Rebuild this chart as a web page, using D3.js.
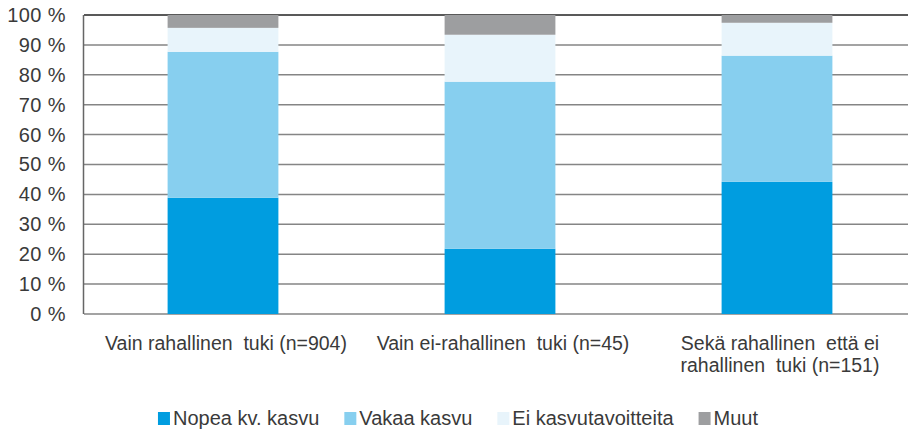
<!DOCTYPE html>
<html>
<head>
<meta charset="utf-8">
<script src="https://cdnjs.cloudflare.com/ajax/libs/d3/7.8.5/d3.min.js"></script>
<style>
body { margin: 0; background: #fff; }
text { font-family: "Liberation Sans", Arial, sans-serif; fill: #3a3a3a; }
</style>
</head>
<body>
<svg id="chart" width="908" height="431"></svg>
<script>
// Data
var categories = ["Vain rahallinen  tuki (n=904)", "Vain ei-rahallinen  tuki (n=45)", "Sekä rahallinen  että ei\nrahallinen  tuki (n=151)"];
var seriesNames = ["Nopea kv. kasvu", "Vakaa kasvu", "Ei kasvutavoitteita", "Muut"];
var nopea = [38.9, 21.8, 44.2];
var vakaa = [48.8, 55.9, 42.2];
var eiKasvu = [8.0, 15.7, 11.0];
var muut = [4.3, 6.6, 2.6];
var yTicks = [0, 10, 20, 30, 40, 50, 60, 70, 80, 90, 100];
var colors = ["#009de0", "#87cfef", "#e8f4fb", "#9d9ea0"];

var svg = d3.select("#chart");
var plotLeft = 84, plotRight = 915.5, plotTop = 15, plotBottom = 314;

var rows = categories.map(function(c, i) {
	return {cat: c, s0: nopea[i], s1: vakaa[i], s2: eiKasvu[i], s3: muut[i]};
});
var layers = d3.stack().keys(["s0", "s1", "s2", "s3"])(rows);

var x = d3.scaleBand().domain(categories).range([plotLeft + 0.5, plotRight]).paddingInner(0.6).paddingOuter(0.3);
var y = d3.scaleLinear().domain([0, 100]).range([plotBottom, plotTop]);

// Grid lines
svg.append("g").selectAll("line").data(yTicks).enter().append("line")
	.attr("x1", plotLeft).attr("x2", 908)
	.attr("y1", function(d) { return y(d); }).attr("y2", function(d) { return y(d); })
	.attr("stroke", function(d) { return d == 100 ? "#222" : "#858585"; })
	.attr("stroke-width", 1.5);

// Bars
svg.append("g").selectAll("g").data(layers).enter().append("g")
	.attr("fill", function(d, i) { return colors[i]; })
	.selectAll("rect").data(function(d) { return d; }).enter().append("rect")
	.attr("x", function(d) { return x(d.data.cat); })
	.attr("width", x.bandwidth())
	.attr("y", function(d) { return y(d[1]); })
	.attr("height", function(d) { return y(d[0]) - y(d[1]); });

// Left axis line
svg.append("line").attr("x1", plotLeft - 0.5).attr("x2", plotLeft - 0.5).attr("y1", plotTop).attr("y2", plotBottom)
	.attr("stroke", "#666").attr("stroke-width", 1.5);

// Y axis labels
var yAxis = d3.axisLeft(y).tickValues(yTicks).tickSize(0).tickPadding(18)
	.tickFormat(function(d) { return d + "\u00a0%"; });
var ya = svg.append("g").attr("transform", "translate(" + plotLeft + ",0)").call(yAxis);
ya.select(".domain").remove();
ya.selectAll("text").style("font-size", "20px").style("fill", "#3a3a3a")
	.style("letter-spacing", "0.4px")
	.style("font-family", "'Liberation Sans', Arial, sans-serif");

// Category labels
var xl = svg.append("g");
categories.forEach(function(c) {
	var lines = c.split("\n");
	var t = xl.append("text").attr("text-anchor", "middle").style("font-size", "19.5px")
		.attr("xml:space", "preserve");
	lines.forEach(function(l, i) {
		t.append("tspan").attr("x", x(c) + x.bandwidth() / 2 + 3).attr("y", 350 + i * 22).text(l);
	});
});

// Legend, centred on the page
var legend = svg.append("g");
var lx = 0;
seriesNames.forEach(function(name, i) {
	legend.append("rect").attr("x", lx).attr("y", 412).attr("width", 12).attr("height", 13)
		.attr("fill", colors[i]);
	var t = legend.append("text").attr("x", lx + 15).attr("y", 425)
		.style("font-size", "20px").text(name);
	lx += 15 + t.node().getComputedTextLength() + 25;
});
var legendWidth = lx - 25;
legend.attr("transform", "translate(" + (458 - legendWidth / 2) + ",0)");
</script>
</body>
</html>
